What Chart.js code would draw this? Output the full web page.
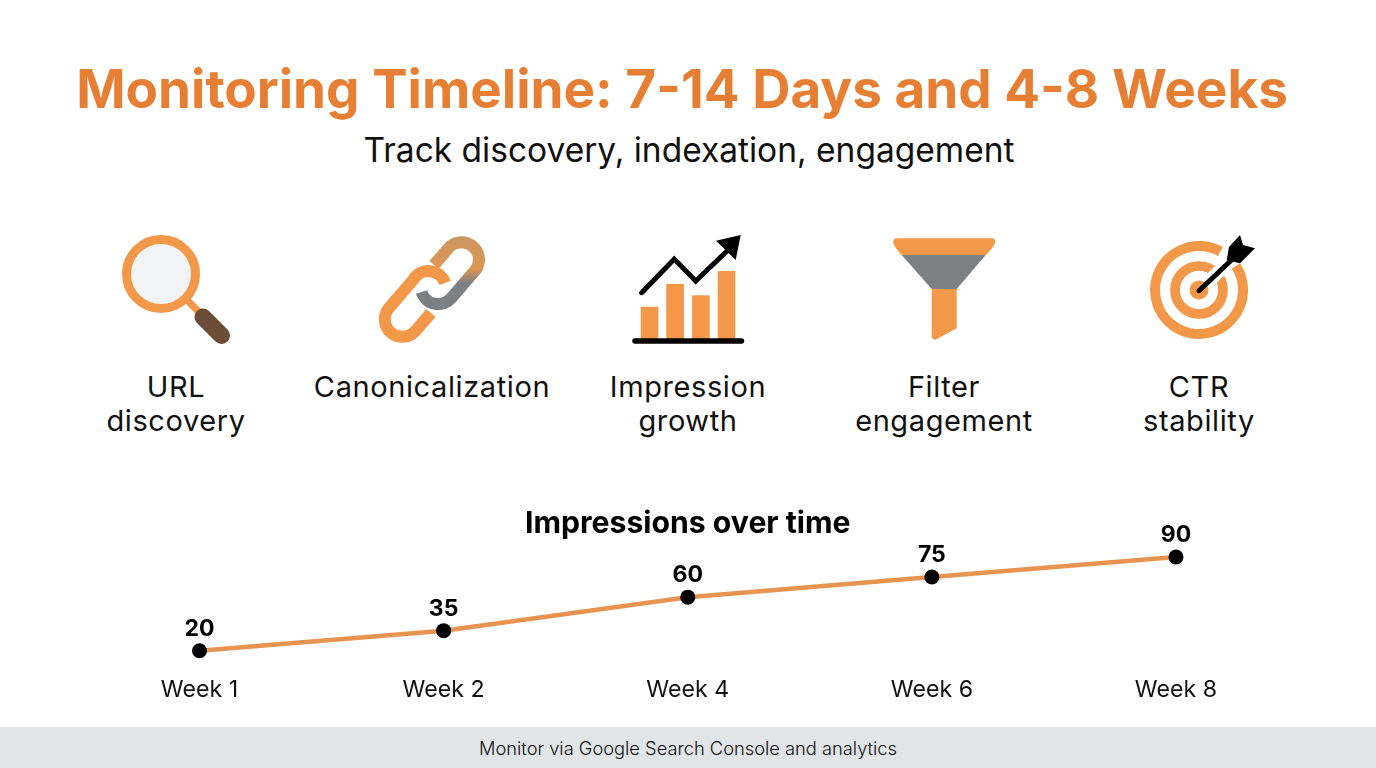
<!DOCTYPE html>
<html>
<head>
<meta charset="utf-8">
<title>Monitoring Timeline</title>
<script src="https://cdn.jsdelivr.net/npm/chart.js@4"></script>
<style>
  html, body { margin: 0; padding: 0; background: #fff; }
  body { width: 1376px; height: 768px; position: relative; overflow: hidden; font-family: Inter, sans-serif; color: #111; }
  .txt { position: absolute; left: 0; width: 1376px; text-align: center; white-space: nowrap; }
  #title { left: -6px; top: 56px; font-size: 53px; line-height: 66px; font-weight: 700; color: #E67F33; }
  #sub { left: 1px; top: 128px; font-size: 33.5px; line-height: 44px; font-weight: 400; }
  .lbl { position: absolute; top: 370px; width: 300px; text-align: center; font-size: 29px; letter-spacing: 0.6px; line-height: 34px; }
  #footer { position: absolute; left: 0; top: 727px; width: 1376px; height: 41px; line-height: 43px; background: #E1E5E8; text-align: center; font-size: 18.3px; font-weight: 300; }
  #icons { position: absolute; left: 0; top: 0; }
  #chart { position: absolute; left: 0; top: 500px; }
</style>
</head>
<body>
<div class="txt" id="title">Monitoring Timeline: 7-14 Days and 4-8 Weeks</div>
<div class="txt" id="sub">Track discovery, indexation, engagement</div>

<svg id="icons" width="1376" height="370" viewBox="0 0 1376 370">
  <defs>
    <linearGradient id="linkGrad" gradientUnits="userSpaceOnUse" x1="0" y1="235" x2="0" y2="310">
      <stop offset="0" stop-color="#C99762"/>
      <stop offset="0.45" stop-color="#DF9553"/>
      <stop offset="0.64" stop-color="#7D8083"/>
    </linearGradient>
  </defs>
  <!-- magnifier -->
  <line x1="187" y1="300" x2="204" y2="317" stroke="#F39848" stroke-width="7"/>
  <circle cx="161" cy="274" r="34.5" fill="#F1F3F4" stroke="#F39848" stroke-width="9"/>
  <line x1="203" y1="317" x2="221.5" y2="335.5" stroke="#6B4C36" stroke-width="17" stroke-linecap="round"/>
  <!-- chain -->
  <path d="M434 265 L449.8 246.6 A17.5 17.5 0 0 1 476 269.4 L451 298.4 A17.5 17.5 0 0 1 421.5 292" fill="none" stroke="url(#linkGrad)" stroke-width="12"/>
  <path d="M431 313 L415 331.4 A17.5 17.5 0 0 1 388.5 308.6 L413.4 279.6 A17.5 17.5 0 0 1 445 283" fill="none" stroke="#F39848" stroke-width="12"/>
  <!-- growth -->
  <g fill="#F39848">
    <rect x="640.7" y="306.7" width="17.6" height="33"/>
    <rect x="666.3" y="284" width="17.7" height="55.7"/>
    <rect x="692" y="295.3" width="17.7" height="44.4"/>
    <rect x="717.7" y="271" width="17.6" height="68.7"/>
  </g>
  <line x1="635" y1="341" x2="741.5" y2="341" stroke="#000" stroke-width="5.5" stroke-linecap="round"/>
  <polyline points="641.7,292.7 674.3,259 695.7,281 726,252" fill="none" stroke="#000" stroke-width="5" stroke-linecap="round"/>
  <polygon points="740.7,235 716,240.7 735.7,260" fill="#000"/>
  <!-- funnel -->
  <path d="M897 238.3 H991 Q996.5 238.3 995 243 Q993 248 986 255 H901.7 Q895 248 893.3 243 Q892.5 238.3 897 238.3 Z" fill="#F39848"/>
  <polygon points="901.7,255 985.7,255 956.7,289 931.7,289" fill="#7D8083"/>
  <polygon points="931.7,289 956.7,289 956.7,328.3 935,340 931.7,338" fill="#F39848"/>
  <!-- target -->
  <path d="M1235.9 266 A44 44 0 1 1 1220.3 251.5" fill="none" stroke="#F39848" stroke-width="10"/>
  <circle cx="1199" cy="290" r="24" fill="none" stroke="#F39848" stroke-width="9.7"/>
  <circle cx="1199" cy="290" r="9.5" fill="#F39848"/>
  <line x1="1210" y1="280" x2="1232" y2="259" stroke="#fff" stroke-width="13"/>
  <line x1="1199" y1="290.7" x2="1232" y2="259.5" stroke="#000" stroke-width="5" stroke-linecap="round"/>
  <polygon points="1240,235 1243,245 1255,248.3 1240,263.3 1226.7,260 1229,247" fill="#000"/>
</svg>

<div class="lbl" style="left:26px">URL<br>discovery</div>
<div class="lbl" style="left:282px">Canonicalization</div>
<div class="lbl" style="left:538px">Impression<br>growth</div>
<div class="lbl" style="left:794px">Filter<br>engagement</div>
<div class="lbl" style="left:1049px">CTR<br>stability</div>

<canvas id="chart" width="1376" height="220" style="width:1376px;height:220px"></canvas>
<div id="footer">Monitor via Google Search Console and analytics</div>

<script>
// chart data
const weeks = ["Week 1", "Week 2", "Week 4", "Week 6", "Week 8"];
const impressions = [20, 35, 60, 75, 90];

// value labels above the points
const valueLabels = {
  id: "valueLabels",
  afterDatasetsDraw(chart) {
    const ctx = chart.ctx;
    ctx.save();
    ctx.font = "700 23px Inter";
    ctx.fillStyle = "#000";
    ctx.textAlign = "center";
    ctx.textBaseline = "middle";
    chart.getDatasetMeta(0).data.forEach((pt, i) => {
      ctx.fillText(impressions[i], pt.x, pt.y - 22);
    });
    ctx.restore();
  },
};

new Chart(document.getElementById("chart").getContext("2d"), {
  type: "line",
  data: {
    labels: weeks,
    datasets: [
      {
        data: impressions,
        borderColor: "#E8934F",
        borderWidth: 4.5,
        tension: 0,
        pointRadius: 7.5,
        pointHoverRadius: 7.5,
        pointBackgroundColor: "#000",
        pointBorderWidth: 0,
        clip: false,
      },
    ],
  },
  options: {
    responsive: false,
    animation: false,
    layout: { padding: { left: 199.5, right: 200, top: 0, bottom: 5 } },
    plugins: {
      legend: { display: false },
      tooltip: { enabled: false },
      title: {
        display: true,
        text: "Impressions over time",
        color: "#000",
        font: { family: "Inter", size: 30.2, weight: "700", lineHeight: 1.2 },
        padding: { top: 5.5, bottom: 1.8 },
      },
    },
    scales: {
      x: {
        offset: false,
        grid: { display: false, drawTicks: false },
        border: { display: false },
        ticks: { color: "#111", padding: 11.5, maxRotation: 0, font: { family: "Inter", size: 23.2, lineHeight: 1.2 } },
      },
      y: { display: false, min: 10, max: 100 },
    },
  },
  plugins: [valueLabels],
});
</script>
</body>
</html>
